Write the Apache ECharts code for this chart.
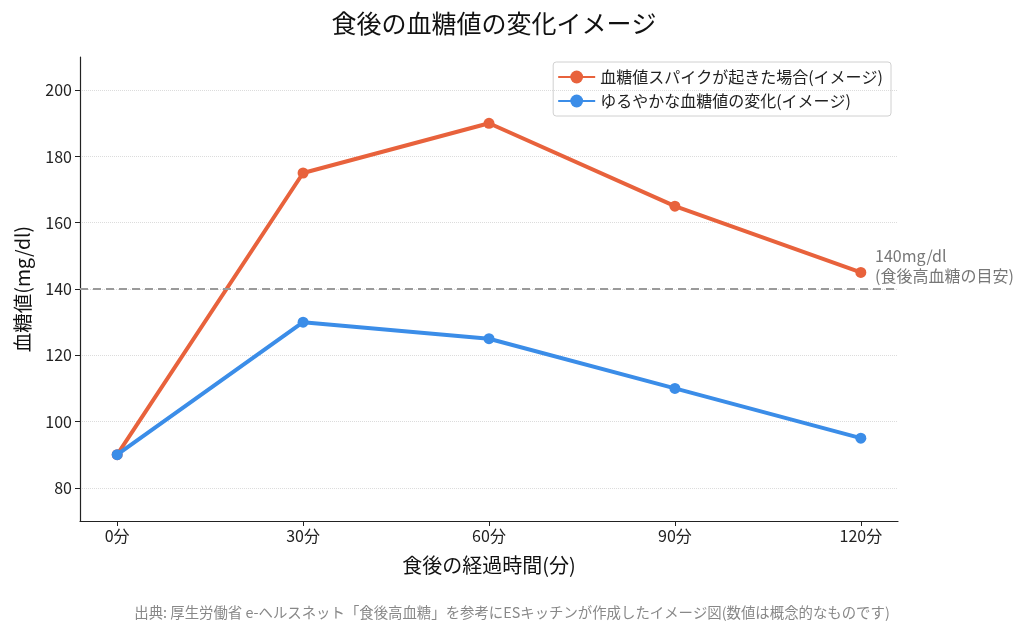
<!DOCTYPE html>
<html>
<head>
<meta charset="utf-8">
<script src="https://cdn.jsdelivr.net/npm/echarts@6/dist/echarts.min.js"></script>
<style>
html, body { margin: 0; padding: 0; background: #fff; }
#chart { width: 1024px; height: 636px; }
</style>
</head>
<body>
<div id="chart"></div>
<script>
// データ
const minutes = [0, 30, 60, 90, 120];
const spikeValues = [90, 175, 190, 165, 145];
const gentleValues = [90, 130, 125, 110, 95];
const yTicks = [80, 100, 120, 140, 160, 180, 200];
const threshold = 140;

const fontJP = '"Noto Sans CJK JP", "Noto Sans", sans-serif';

function toPairs(xs, ys) {
    return xs.map((x, i) => [x, ys[i]]);
}

var myChart = echarts.init(document.getElementById('chart'));
var option = {
    animation: false,
    textStyle: { fontFamily: fontJP },
    title: {
        text: '食後の血糖値の変化イメージ',
        left: 489,
        textAlign: 'center',
        top: 6,
        textStyle: { fontFamily: fontJP, fontSize: 25, fontWeight: 'normal', color: '#111' }
    },
    grid: {
        left: 80,
        right: 126,
        top: 57,
        bottom: 115
    },
    legend: {
        orient: 'vertical',
        right: 133,
        top: 62,
        padding: [7, 8, 7, 4],
        itemGap: 8,
        itemWidth: 37,
        itemHeight: 16,
        borderColor: '#d0d0d0',
        borderWidth: 1,
        borderRadius: 3,
        textStyle: { fontFamily: fontJP, fontSize: 16, color: '#222' }
    },
    xAxis: {
        type: 'value',
        min: -6,
        max: 126,
        name: '食後の経過時間(分)',
        nameLocation: 'middle',
        nameGap: 34,
        nameTextStyle: { fontFamily: fontJP, fontSize: 20, color: '#111' },
        axisLine: { show: true, onZero: false, lineStyle: { color: '#222', width: 1.2 } },
        axisTick: { show: true, length: 5, customValues: minutes, lineStyle: { color: '#222' } },
        axisLabel: {
            customValues: minutes,
            formatter: v => v + '分',
            margin: 7,
            fontSize: 16,
            color: '#222'
        },
        splitLine: { show: false }
    },
    yAxis: {
        type: 'value',
        min: 70,
        max: 210,
        name: '血糖値(mg/dl)',
        nameLocation: 'middle',
        nameGap: 48,
        nameTextStyle: { fontFamily: fontJP, fontSize: 19.5, color: '#111' },
        axisLine: { show: true, onZero: false, lineStyle: { color: '#222', width: 1.2 } },
        axisTick: { show: true, length: 5, customValues: yTicks, lineStyle: { color: '#222' } },
        axisLabel: {
            customValues: yTicks,
            margin: 8,
            fontSize: 16,
            color: '#222'
        },
        splitLine: { show: true, lineStyle: { color: '#dcdcdc', type: 'dotted', width: 1 } }
    },
    series: [
        {
            name: '血糖値スパイクが起きた場合(イメージ)',
            type: 'line',
            data: toPairs(minutes, spikeValues),
            color: '#e8623c',
            lineStyle: { width: 4 },
            symbol: 'circle',
            symbolSize: 11,
            z: 3,
            markLine: {
                silent: true,
                symbol: 'none',
                label: { show: false },
                lineStyle: { color: '#9a9a9a', type: [8, 5], width: 2 },
                data: [{ yAxis: threshold }]
            },
            markPoint: {
                silent: true,
                symbol: 'circle',
                symbolSize: 0,
                data: [{
                    coord: [122.3, 147],
                    label: {
                        show: true,
                        position: 'inside',
                        align: 'left',
                        verticalAlign: 'middle',
                        formatter: '140mg/dl\n(食後高血糖の目安)',
                        fontFamily: fontJP,
                        fontSize: 16,
                        lineHeight: 20,
                        color: '#777'
                    }
                }]
            }
        },
        {
            name: 'ゆるやかな血糖値の変化(イメージ)',
            type: 'line',
            data: toPairs(minutes, gentleValues),
            color: '#3b8de8',
            lineStyle: { width: 4 },
            symbol: 'circle',
            symbolSize: 11,
            z: 4
        }
    ],
    graphic: [{
        type: 'text',
        left: 'center',
        top: 605,
        style: {
            text: '出典: 厚生労働省 e-ヘルスネット「食後高血糖」を参考にESキッチンが作成したイメージ図(数値は概念的なものです)',
            fontFamily: fontJP,
            fontSize: 14.4,
            fill: '#888'
        }
    }]
};
myChart.setOption(option);
</script>
</body>
</html>
